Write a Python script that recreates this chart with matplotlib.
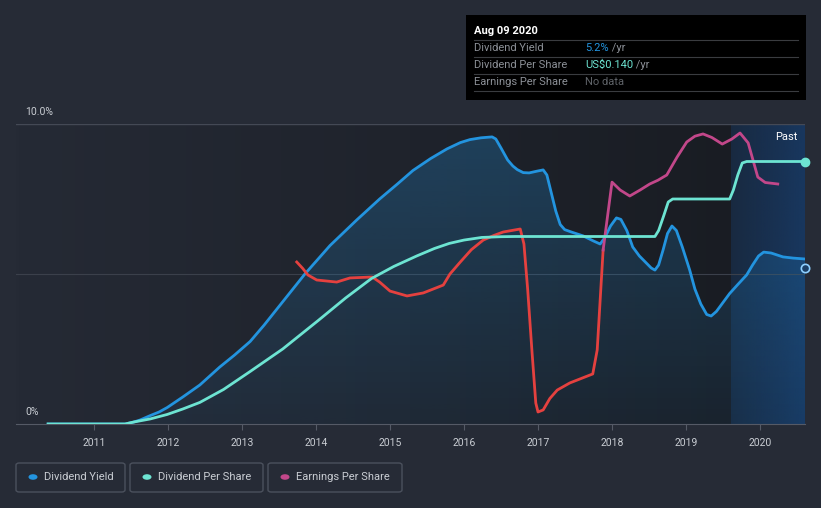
import numpy as np
import matplotlib
matplotlib.use("Agg")
import matplotlib.pyplot as plt
from matplotlib.patches import Rectangle, FancyBboxPatch, Circle
from matplotlib.lines import Line2D

plt.rcParams['font.family'] = ['Roboto', 'DejaVu Sans']

# ---- data (decimal years) ----
yield_years = [2010.38, 2011.42, 2011.53, 2011.62, 2011.76, 2011.88, 2011.99, 2012.2, 2012.43,
               2012.7, 2012.9, 2013.11, 2013.3, 2013.51, 2013.85, 2014.19, 2014.55, 2014.86,
               2015.1, 2015.31, 2015.55, 2015.77, 2015.95, 2016.08, 2016.23, 2016.38, 2016.43,
               2016.5, 2016.59, 2016.66, 2016.72, 2016.8, 2016.88, 2016.99, 2017.07, 2017.12,
               2017.18, 2017.24, 2017.3, 2017.36, 2017.45, 2017.61, 2017.75, 2017.84, 2017.9,
               2017.98, 2018.06, 2018.12, 2018.2, 2018.28, 2018.37, 2018.45, 2018.53, 2018.58,
               2018.63, 2018.69, 2018.75, 2018.81, 2018.87, 2018.95, 2019.05, 2019.12, 2019.2,
               2019.28, 2019.34, 2019.41, 2019.5, 2019.59, 2019.7, 2019.82, 2019.9, 2019.98,
               2020.05, 2020.15, 2020.31, 2020.45, 2020.61]
yield_pct = [0, 0, 0.06, 0.13, 0.28, 0.4, 0.55, 0.9, 1.3,
             1.9, 2.3, 2.75, 3.3, 3.95, 5.0, 5.95, 6.8, 7.5,
             8.0, 8.45, 8.85, 9.17, 9.38, 9.48, 9.54, 9.57, 9.5,
             9.2, 8.8, 8.6, 8.48, 8.38, 8.37, 8.43, 8.47, 8.3,
             7.7, 7.1, 6.65, 6.48, 6.4, 6.27, 6.1, 6.0, 6.2,
             6.6, 6.87, 6.82, 6.45, 5.9, 5.6, 5.4, 5.2, 5.13,
             5.3, 5.8, 6.35, 6.6, 6.45, 5.9, 5.13, 4.5, 4.0,
             3.65, 3.6, 3.75, 4.05, 4.35, 4.65, 4.97, 5.3, 5.6,
             5.73, 5.7, 5.57, 5.53, 5.5]
yield_now = 5.2

dps_years = [2010.38, 2011.42, 2011.53, 2011.76, 2011.99, 2012.2, 2012.43, 2012.75, 2013.11,
             2013.55, 2014.03, 2014.4, 2014.75, 2015.05, 2015.36, 2015.6, 2015.8, 2016.0,
             2016.24, 2016.5, 2016.7, 2018.58, 2018.63, 2018.7, 2018.76, 2018.82, 2019.59,
             2019.64, 2019.7, 2019.76, 2019.82, 2020.61]
dps_usd = [0, 0, 0.001, 0.0027, 0.0051, 0.008, 0.0115, 0.0184, 0.028,
           0.04, 0.0552, 0.0672, 0.0776, 0.084, 0.0896, 0.0936, 0.0963, 0.0981,
           0.0995, 0.0999, 0.100, 0.100, 0.1032, 0.1112, 0.1184, 0.120, 0.120,
           0.1248, 0.1328, 0.1392, 0.140, 0.140]

eps_years = [2013.74, 2013.82, 2013.89, 2014.01, 2014.28, 2014.46, 2014.76, 2014.86, 2015.0,
             2015.23, 2015.45, 2015.72, 2015.81, 2015.95, 2016.1, 2016.26, 2016.4, 2016.53,
             2016.76, 2016.81, 2016.86, 2016.92, 2016.97, 2017.0, 2017.07, 2017.16, 2017.26,
             2017.43, 2017.74, 2017.8, 2017.88, 2018.0, 2018.11, 2018.24, 2018.38, 2018.51,
             2018.62, 2018.74, 2018.88, 2019.01, 2019.12, 2019.23, 2019.35, 2019.49, 2019.62,
             2019.73, 2019.84, 2019.97, 2020.07, 2020.24]
eps_usd = [0.0864, 0.083, 0.0795, 0.0768, 0.0757, 0.0779, 0.0784, 0.0757, 0.0709,
           0.0683, 0.0699, 0.0741, 0.080, 0.0864, 0.093, 0.0981, 0.1005, 0.1024,
           0.104, 0.096, 0.072, 0.0379, 0.0112, 0.0064, 0.0075, 0.0136, 0.0181,
           0.0219, 0.0267, 0.0395, 0.0928, 0.129, 0.1248, 0.1216, 0.1248, 0.128,
           0.130, 0.1328, 0.1424, 0.1504, 0.1535, 0.1547, 0.1528, 0.1493, 0.152,
           0.1552, 0.1499, 0.1317, 0.1288, 0.128]
eps_split = 2017.88   # EPS drawn red before this date, magenta after

year_ticks = [2011, 2012, 2013, 2014, 2015, 2016, 2017, 2018, 2019, 2020]
past_start = 2019.61

# ---- colours ----
bg = '#262b36'
c_yield = '#2394df'
c_dps = '#6de4d2'
c_eps = '#c2478a'
c_eps_low = '#e5413f'
txt = '#c9cdd3'

W, H = 821, 508
fig = plt.figure(figsize=(W / 100, H / 100), dpi=100, facecolor=bg)
x0, x1, ytop, ybot = 16, 805, 124, 424
ax = fig.add_axes([x0 / W, 1 - ybot / H, (x1 - x0) / W, (ybot - ytop) / H])
ax.set_facecolor('none')
xmin, xmax = 2009.946, 2020.608
ax.set_xlim(xmin, xmax)
ax.set_ylim(0, 10)
ax2 = ax.twinx()
ax2.set_ylim(0, 0.16)
ax2.axis('off')

# background: horizontal gradient inside the plot
grad = np.linspace(0, 1, 256).reshape(1, -1)
cm_bg = matplotlib.colors.LinearSegmentedColormap.from_list('bgc', ['#252a35', '#1f232c', '#181b21'])
ax.imshow(grad, extent=[xmin, xmax, 0, 10], aspect='auto', cmap=cm_bg, zorder=0)

# past region (horizontal gradient)
past = np.zeros((1, 256, 4))
past[..., :3] = matplotlib.colors.to_rgb('#184a88')
past[0, :, 3] = np.linspace(0.3, 0.6, 256)
ax.imshow(past, extent=[past_start, xmax, 0, 10], aspect='auto', zorder=0.5)
ax.text(2020.5, 9.55, 'Past', color='white', fontsize=8, ha='right', va='center', zorder=6)

# grid
ax.axhline(10, color='#444955', lw=1, zorder=1)
ax.axhline(5, color='#3b404b', lw=0.8, zorder=1)
for s in ['top', 'right', 'left']:
    ax.spines[s].set_visible(False)
ax.spines['bottom'].set_color('#555a66')
ax.set_yticks([])
ax.set_xticks(year_ticks)
ax.set_xticklabels([str(y) for y in year_ticks], color=txt, fontsize=7.5)
ax.tick_params(axis='x', length=4, color='#555a66', pad=6)

# yield fill with vertical gradient
poly = ax.fill_between(yield_years, yield_pct, 0, color='none', lw=0, zorder=2)
fillg = np.zeros((256, 1, 4))
fillg[..., :3] = matplotlib.colors.to_rgb(c_yield)
fillg[:, 0, 3] = np.linspace(0.06, 0.28, 256)
im = ax.imshow(fillg, extent=[xmin, xmax, 0, 10], aspect='auto', origin='lower', zorder=2)
im.set_clip_path(poly.get_paths()[0], transform=ax.transData)

# lines
ax.plot(yield_years, yield_pct, color=c_yield, lw=2, zorder=4, solid_joinstyle='round')
ax2.plot(dps_years, dps_usd, color=c_dps, lw=2, zorder=4, solid_joinstyle='round')
ey = np.array(eps_years)
ev = np.array(eps_usd)
lo = ey <= eps_split
hi = ey >= eps_split
ax2.plot(ey[lo], ev[lo], color=c_eps_low, lw=2, zorder=3, solid_joinstyle='round')
ax2.plot(ey[hi], ev[hi], color=c_eps, lw=2, zorder=3, solid_joinstyle='round')

# end markers
ax2.plot([dps_years[-1]], [dps_usd[-1]], 'o', ms=6, color=c_dps, zorder=6, clip_on=False)
ax.plot([yield_years[-1]], [yield_now], 'o', ms=6, mfc='#1b3f66', mec='#8fd0ff', mew=1.2,
        zorder=6, clip_on=False)

# y labels
fig.text(25 / W, 1 - 112 / H, '10.0%', color=txt, fontsize=7.5, va='center')
fig.text(25 / W, 1 - 412 / H, '0%', color=txt, fontsize=7.5, va='center')

# tooltip
fig.patches.append(Rectangle((466 / W, 1 - 100 / H), 340 / W, 85 / H, transform=fig.transFigure,
                             facecolor='black', edgecolor='none', zorder=10))
fig.text(474 / W, 1 - 31 / H, 'Aug 09 2020', color='white', fontsize=8, fontweight='bold',
         va='center', zorder=11)
for yy in [40, 57, 74, 91]:
    fig.lines.append(Line2D([474 / W, 798 / W], [1 - yy / H, 1 - yy / H], transform=fig.transFigure,
                            color='#3a3c40', lw=0.8, zorder=11))
rows = [('Dividend Yield', '5.2%', c_yield, ' /yr'),
        ('Dividend Per Share', 'US$0.140', c_dps, ' /yr'),
        ('Earnings Per Share', 'No data', '#5f6368', '')]
for i, (lab, val, col, unit) in enumerate(rows):
    yy = 1 - (48 + 17 * i) / H
    fig.text(474 / W, yy, lab, color='#8c9097', fontsize=8, va='center', zorder=11)
    t = fig.text(585 / W, yy, val, color=col, fontsize=8, va='center', zorder=11)
    if unit:
        fig.canvas.draw()
        bb = t.get_window_extent()
        fig.text(bb.x1 / W, yy, unit, color='#8c9097', fontsize=8, va='center', zorder=11)

# legend boxes
legend = [('Dividend Yield', c_yield, 16, 125), ('Dividend Per Share', c_dps, 130, 263),
          ('Earnings Per Share', c_eps, 268, 402)]
for lab, col, bx0, bx1 in legend:
    fig.patches.append(FancyBboxPatch((bx0 / W, 1 - 492 / H), (bx1 - bx0) / W, 29 / H,
                                      boxstyle='round,pad=0,rounding_size=0.004',
                                      transform=fig.transFigure, facecolor='none',
                                      edgecolor='#4b515d', lw=1))
    fig.patches.append(Circle(((bx0 + 17) / W, 1 - 477 / H), 4.5 / W, transform=fig.transFigure,
                              facecolor=col, edgecolor='none'))
    fig.text((bx0 + 28) / W, 1 - 477 / H, lab, color=txt, fontsize=8, va='center')

fig.savefig('out.png', dpi=100, facecolor=bg)
